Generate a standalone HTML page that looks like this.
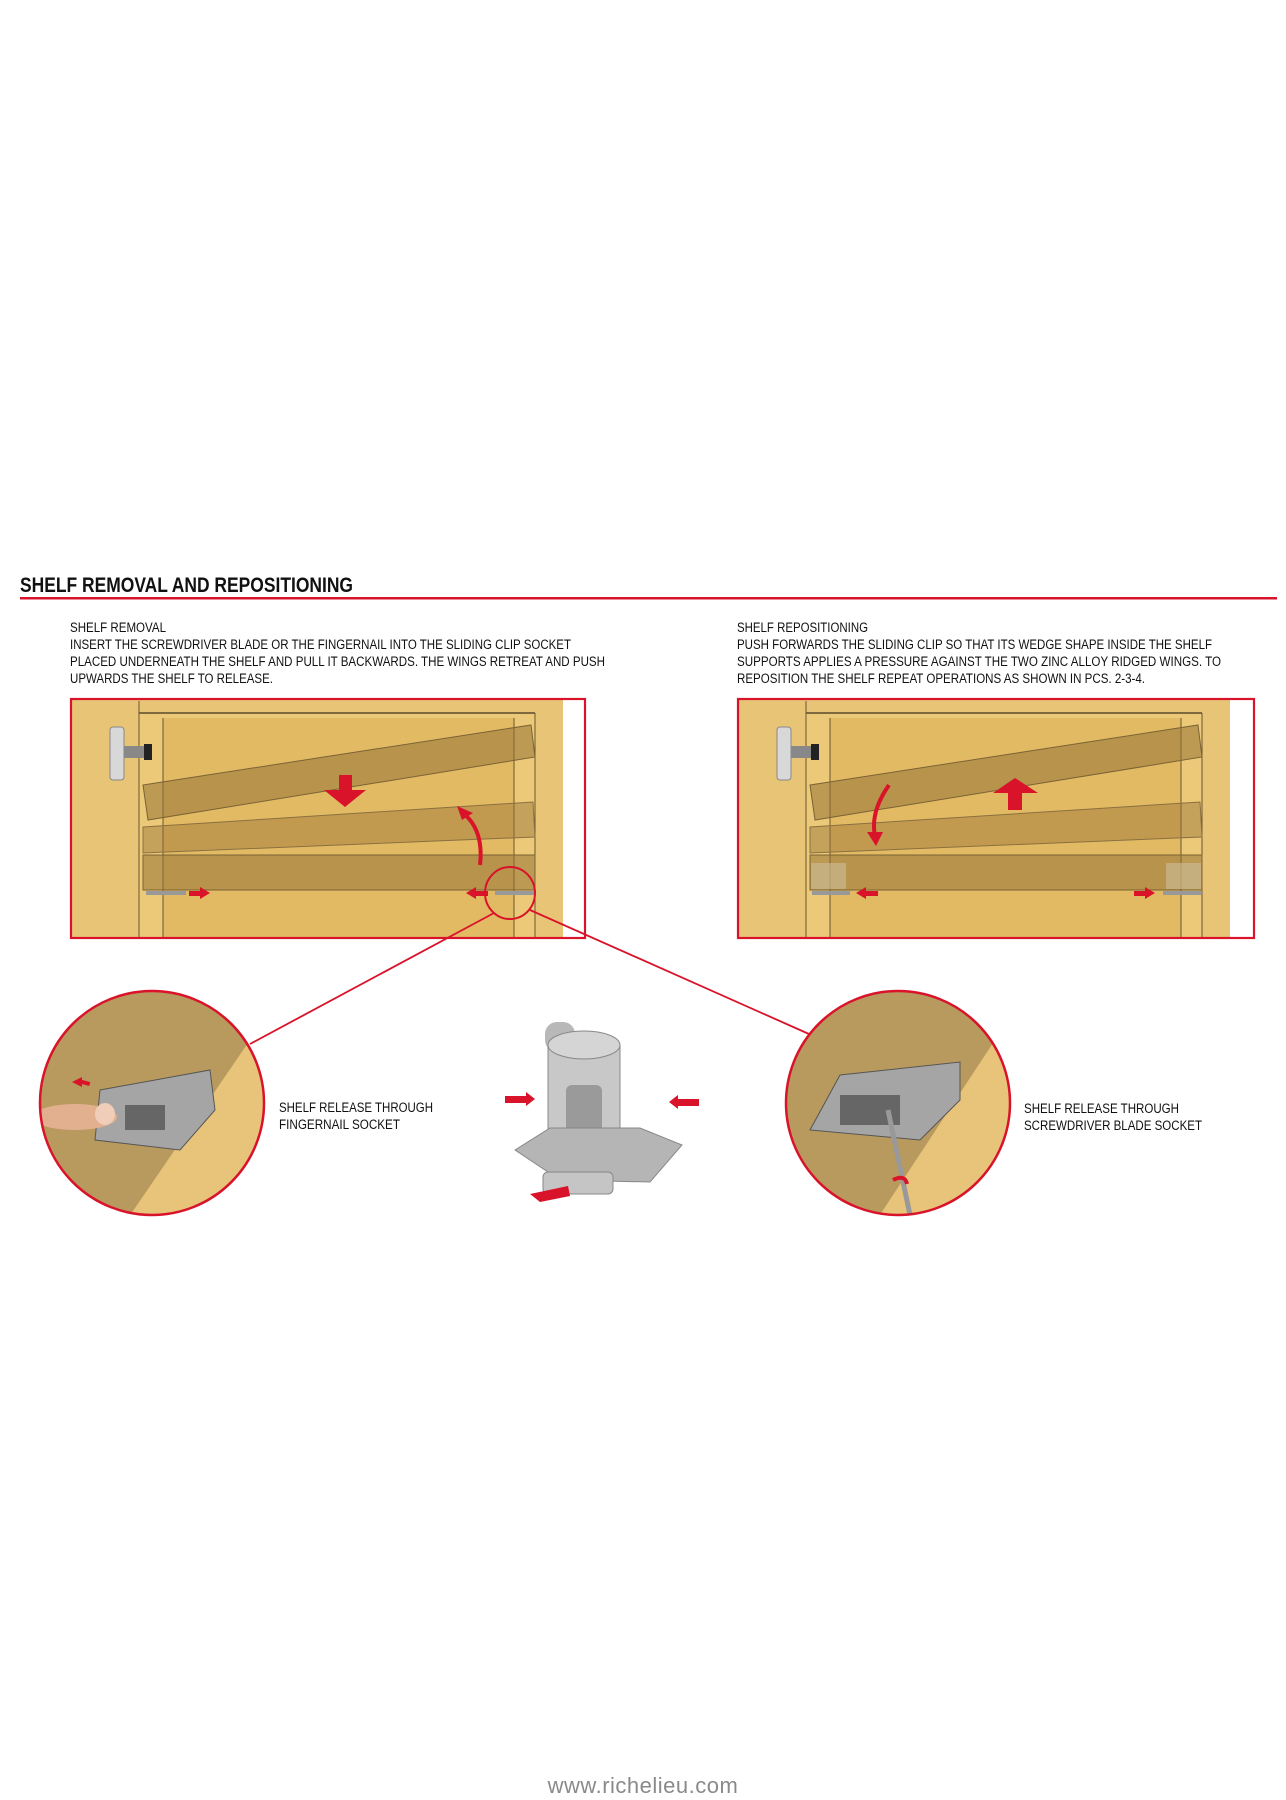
<!DOCTYPE html>
<html><head><meta charset="utf-8"><style>
html,body{margin:0;padding:0;background:#fff;}
body{width:1286px;height:1800px;position:relative;overflow:hidden;}
svg{position:absolute;left:0;top:0;}
.t{font-family:"Liberation Sans",sans-serif;font-size:13.5px;fill:#111;}
</style></head><body>
<svg width="1286" height="1800" viewBox="0 0 1286 1800">
<defs>
<g id="cab">
  <rect x="70" y="699" width="515" height="239" fill="#e8c477"/>
  <rect x="563" y="700" width="22" height="237" fill="#fff"/>
  <rect x="139" y="713" width="396" height="225" fill="#ecc978"/>
  <rect x="163" y="718" width="351" height="220" fill="#e3ba64"/>
  <line x1="139" y1="713" x2="535" y2="713" stroke="#5a4a2a" stroke-width="1.5"/>
  <line x1="139" y1="701" x2="139" y2="938" stroke="#6a5630" stroke-width="1"/>
  <line x1="163" y1="718" x2="163" y2="938" stroke="#6a5630" stroke-width="1"/>
  <line x1="514" y1="718" x2="514" y2="938" stroke="#6a5630" stroke-width="1"/>
  <line x1="535" y1="713" x2="535" y2="938" stroke="#6a5630" stroke-width="1"/>
  <polygon points="143,785 531,725 535,757 148,820" fill="rgba(150,115,55,0.55)" stroke="#7a6335"/>
  <polygon points="143,827 533,802 535,837 143,853" fill="rgba(150,115,55,0.45)" stroke="#8a7040"/>
  <rect x="143" y="855" width="392" height="35" fill="rgba(150,115,55,0.55)" stroke="#7a6335"/>
  <rect x="110" y="727" width="14" height="53" rx="3" fill="#d8d8d8" stroke="#888"/>
  <rect x="124" y="746" width="22" height="12" fill="#888"/>
  <rect x="144" y="744" width="8" height="16" fill="#222"/>
</g>
</defs>
<text x="20" y="592" font-family="Liberation Sans,sans-serif" font-weight="bold" font-size="21" fill="#111" textLength="333" lengthAdjust="spacingAndGlyphs">SHELF REMOVAL AND REPOSITIONING</text>
<rect x="20" y="597" width="1257" height="2.5" fill="#d9132a"/>

<text class="t" x="70" y="632" textLength="96" lengthAdjust="spacingAndGlyphs">SHELF REMOVAL</text>
<text class="t" x="70" y="649" textLength="501" lengthAdjust="spacingAndGlyphs">INSERT THE SCREWDRIVER BLADE OR THE FINGERNAIL INTO THE SLIDING CLIP SOCKET</text>
<text class="t" x="70" y="666" textLength="535" lengthAdjust="spacingAndGlyphs">PLACED UNDERNEATH THE SHELF AND PULL IT BACKWARDS. THE WINGS RETREAT AND PUSH</text>
<text class="t" x="70" y="683" textLength="203" lengthAdjust="spacingAndGlyphs">UPWARDS THE SHELF TO RELEASE.</text>

<text class="t" x="737" y="632" textLength="131" lengthAdjust="spacingAndGlyphs">SHELF REPOSITIONING</text>
<text class="t" x="737" y="649" textLength="475" lengthAdjust="spacingAndGlyphs">PUSH FORWARDS THE SLIDING CLIP SO THAT ITS WEDGE SHAPE INSIDE THE SHELF</text>
<text class="t" x="737" y="666" textLength="484" lengthAdjust="spacingAndGlyphs">SUPPORTS APPLIES A PRESSURE AGAINST THE TWO ZINC ALLOY RIDGED WINGS. TO</text>
<text class="t" x="737" y="683" textLength="408" lengthAdjust="spacingAndGlyphs">REPOSITION THE SHELF REPEAT OPERATIONS AS SHOWN IN PCS. 2-3-4.</text>

<use href="#cab"/>
<use href="#cab" transform="translate(667,0)"/>
<rect x="71" y="699" width="514" height="239" fill="none" stroke="#d9132a" stroke-width="2.2"/>
<rect x="738" y="699" width="516" height="239" fill="none" stroke="#d9132a" stroke-width="2.2"/>

<!-- left panel arrows -->
<polygon points="339,775 352,775 352,790 366,790 345,807 324,790 339,790" fill="#d9132a"/>
<path d="M480,865 Q484,830 463,813" fill="none" stroke="#d9132a" stroke-width="4"/>
<polygon points="457,806 473,813 462,820" fill="#d9132a"/>
<rect x="146" y="891" width="40" height="4" fill="#999"/>
<rect x="189" y="891" width="12" height="5" fill="#d9132a"/><polygon points="200,887 210,893 200,899" fill="#d9132a"/>
<rect x="476" y="891" width="12" height="5" fill="#d9132a"/><polygon points="476,887 466,893 476,899" fill="#d9132a"/>
<rect x="495" y="891" width="40" height="4" fill="#999"/>
<ellipse cx="510" cy="893" rx="25" ry="26" fill="none" stroke="#d9132a" stroke-width="2"/>
<line x1="494" y1="913" x2="250" y2="1044" stroke="#d9132a" stroke-width="1.8"/>
<line x1="530" y1="910" x2="809" y2="1034" stroke="#d9132a" stroke-width="1.8"/>

<!-- right panel arrows -->
<polygon points="1008,810 1022,810 1022,793 1038,793 1015,778 993,793 1008,793" fill="#d9132a"/>
<path d="M889,785 Q870,812 875,836" fill="none" stroke="#d9132a" stroke-width="4"/>
<polygon points="867,832 883,832 876,846" fill="#d9132a"/>
<rect x="811" y="863" width="35" height="26" fill="rgba(205,190,155,0.6)"/>
<rect x="1166" y="863" width="35" height="26" fill="rgba(205,190,155,0.6)"/>
<rect x="812" y="891" width="38" height="4" fill="#999"/>
<rect x="1163" y="891" width="38" height="4" fill="#999"/>
<rect x="866" y="891" width="12" height="5" fill="#d9132a"/><polygon points="866,887 856,893 866,899" fill="#d9132a"/>
<rect x="1134" y="891" width="12" height="5" fill="#d9132a"/><polygon points="1145,887 1155,893 1145,899" fill="#d9132a"/>

<!-- left zoom circle -->
<clipPath id="c1"><circle cx="152" cy="1103" r="112"/></clipPath>
<g clip-path="url(#c1)">
  <rect x="30" y="980" width="250" height="250" fill="#b99a5e"/>
  <polygon points="250,1040 280,1040 280,1230 120,1230" fill="#e8c47b"/>
  <polygon points="100,1090 210,1070 215,1110 180,1150 95,1140" fill="#a5a5a5" stroke="#555"/>
  <rect x="125" y="1105" width="40" height="25" fill="#666"/>
  <ellipse cx="75" cy="1117" rx="42" ry="13" fill="#e2b08e"/>
  <ellipse cx="105" cy="1114" rx="10" ry="11" fill="#f0cdb8"/>
</g>
<circle cx="152" cy="1103" r="112" fill="none" stroke="#d9132a" stroke-width="2.5"/>
<polygon points="82,1077 72,1082 82,1087" fill="#d9132a"/><rect x="80" y="1080" width="10" height="4" fill="#d9132a" transform="rotate(15 82 1082)"/>

<!-- right zoom circle -->
<clipPath id="c2"><circle cx="898" cy="1103" r="112"/></clipPath>
<g clip-path="url(#c2)">
  <rect x="780" y="980" width="250" height="250" fill="#b99a5e"/>
  <polygon points="995,1040 1020,1040 1020,1230 870,1230" fill="#e8c47b"/>
  <polygon points="840,1075 960,1062 960,1100 920,1140 810,1130" fill="#a5a5a5" stroke="#555"/>
  <rect x="840" y="1095" width="60" height="30" fill="#666"/>
  <line x1="888" y1="1110" x2="910" y2="1215" stroke="#999" stroke-width="5"/>
  <path d="M893,1180 q12,-6 14,4" stroke="#d9132a" stroke-width="4" fill="none"/>
</g>
<circle cx="898" cy="1103" r="112" fill="none" stroke="#d9132a" stroke-width="2.5"/>

<!-- center clip -->
<rect x="545" y="1022" width="30" height="30" rx="12" fill="#b8b8b8"/>
<path d="M548,1045 L548,1150 L620,1150 L620,1045 Q584,1025 548,1045 Z" fill="#c8c8c8" stroke="#888"/>
<ellipse cx="584" cy="1045" rx="36" ry="14" fill="#d5d5d5" stroke="#888"/>
<rect x="566" y="1085" width="36" height="60" rx="6" fill="#9a9a9a"/>
<polygon points="515,1150 550,1128 640,1128 682,1145 650,1182 560,1180" fill="#b5b5b5" stroke="#888"/>
<rect x="543" y="1172" width="70" height="22" rx="5" fill="#c5c5c5" stroke="#888"/>
<rect x="505" y="1096" width="22" height="7" fill="#d9132a"/><polygon points="526,1092 535,1099 526,1106" fill="#d9132a"/>
<rect x="677" y="1099" width="22" height="7" fill="#d9132a"/><polygon points="678,1095 669,1102 678,1109" fill="#d9132a"/>
<polygon points="530,1194 568,1186 570,1196 540,1202" fill="#d9132a"/>

<text class="t" x="279" y="1112" textLength="154" lengthAdjust="spacingAndGlyphs">SHELF RELEASE THROUGH</text>
<text class="t" x="279" y="1129" textLength="121" lengthAdjust="spacingAndGlyphs">FINGERNAIL SOCKET</text>
<text class="t" x="1024" y="1113" textLength="155" lengthAdjust="spacingAndGlyphs">SHELF RELEASE THROUGH</text>
<text class="t" x="1024" y="1130" textLength="178" lengthAdjust="spacingAndGlyphs">SCREWDRIVER BLADE SOCKET</text>

<text x="643" y="1793" text-anchor="middle" font-family="Liberation Sans,sans-serif" font-size="22" fill="#8a8a8a" letter-spacing="0.5">www.richelieu.com</text>
</svg>
</body></html>
